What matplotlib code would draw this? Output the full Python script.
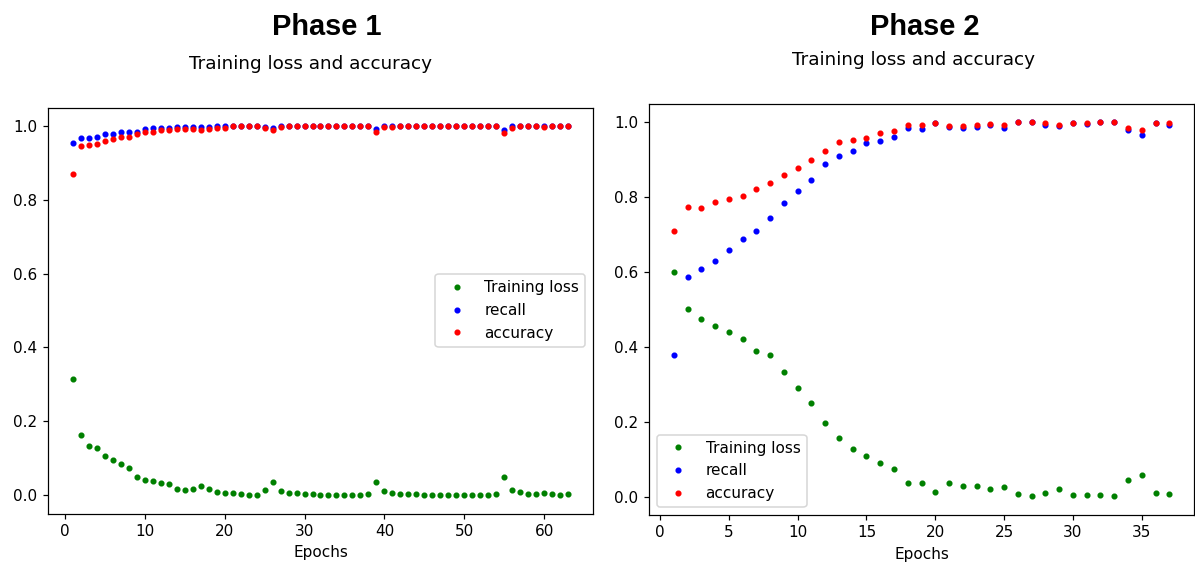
import matplotlib
matplotlib.use('Agg')
import matplotlib.pyplot as plt

# Phase 1 history (63 epochs)
p1_loss = [0.314, 0.164, 0.134, 0.128, 0.105, 0.095, 0.083, 0.074, 0.050, 0.041,
           0.038, 0.032, 0.029, 0.017, 0.014, 0.017, 0.024, 0.017, 0.008, 0.005,
           0.006, 0.002, 0.000, 0.000, 0.015, 0.036, 0.010, 0.006, 0.006, 0.003,
           0.003, 0.000, 0.000, 0.000, 0.000, 0.000, 0.000, 0.002, 0.036, 0.011,
           0.005, 0.002, 0.002, 0.002, 0.000, 0.000, 0.000, 0.000, 0.000, 0.000,
           0.000, 0.000, 0.000, 0.002, 0.050, 0.015, 0.008, 0.002, 0.002, 0.005,
           0.002, 0.000, 0.002]
p1_recall = [0.955, 0.967, 0.967, 0.970, 0.979, 0.979, 0.985, 0.985, 0.985, 0.992,
             0.994, 0.994, 0.995, 0.997, 0.998, 0.998, 0.996, 0.998, 1.000, 1.000,
             1.000, 1.000, 1.000, 1.000, 0.998, 0.994, 1.000, 1.000, 1.000, 1.000,
             1.000, 1.000, 1.000, 1.000, 1.000, 1.000, 1.000, 1.000, 0.993, 1.000,
             1.000, 1.000, 1.000, 1.000, 1.000, 1.000, 1.000, 1.000, 1.000, 1.000,
             1.000, 1.000, 1.000, 1.000, 0.990, 1.000, 1.000, 1.000, 1.000, 1.000,
             1.000, 1.000, 1.000]
p1_acc = [0.871, 0.945, 0.949, 0.952, 0.960, 0.964, 0.970, 0.970, 0.979, 0.985,
          0.985, 0.988, 0.990, 0.993, 0.993, 0.993, 0.990, 0.993, 0.995, 0.995,
          1.000, 1.000, 1.000, 1.000, 0.994, 0.988, 0.997, 1.000, 1.000, 1.000,
          1.000, 1.000, 1.000, 1.000, 1.000, 1.000, 1.000, 1.000, 0.985, 0.997,
          0.997, 1.000, 1.000, 1.000, 1.000, 1.000, 1.000, 1.000, 1.000, 1.000,
          1.000, 1.000, 1.000, 1.000, 0.981, 0.994, 1.000, 1.000, 1.000, 0.997,
          1.000, 1.000, 1.000]

# Phase 2 history (37 epochs)
p2_loss = [0.600, 0.502, 0.476, 0.457, 0.440, 0.421, 0.389, 0.378, 0.333, 0.292,
           0.250, 0.199, 0.158, 0.128, 0.110, 0.090, 0.074, 0.039, 0.039, 0.015,
           0.039, 0.029, 0.029, 0.021, 0.027, 0.009, 0.003, 0.012, 0.021, 0.006,
           0.006, 0.006, 0.003, 0.045, 0.060, 0.012, 0.009]
p2_recall = [0.380, 0.587, 0.608, 0.629, 0.659, 0.689, 0.709, 0.745, 0.784, 0.817,
             0.846, 0.888, 0.911, 0.924, 0.944, 0.950, 0.962, 0.986, 0.982, 0.998,
             0.987, 0.984, 0.988, 0.992, 0.984, 1.000, 1.000, 0.993, 0.990, 0.998,
             0.996, 1.000, 1.000, 0.979, 0.967, 0.998, 0.993]
p2_acc = [0.709, 0.775, 0.772, 0.787, 0.795, 0.804, 0.823, 0.837, 0.860, 0.879,
          0.900, 0.924, 0.947, 0.952, 0.958, 0.971, 0.977, 0.992, 0.992, 0.998,
          0.991, 0.991, 0.994, 0.996, 0.994, 1.000, 1.000, 0.997, 0.993, 0.999,
          0.999, 1.000, 1.000, 0.985, 0.980, 0.998, 0.998]

phases = [
    ('Phase 1', p1_loss, p1_recall, p1_acc, 'center right'),
    ('Phase 2', p2_loss, p2_recall, p2_acc, 'lower left'),
]

# the original was drawn a bit larger than 100 dpi, so render at 110 dpi
fig = plt.figure(figsize=(1195 / 110, 563 / 110), dpi=110)
ax1 = fig.add_axes([0.0402, 0.0879, 0.4560, 0.7211])
ax2 = fig.add_axes([0.5431, 0.0858, 0.4561, 0.7302])
title_x = [327 / 1195, 924.5 / 1195]
sub_x = [0.481, 0.486]

for ax, (name, loss, recall, acc, loc), tx, sx in zip([ax1, ax2], phases, title_x, sub_x):
    epochs = range(1, len(loss) + 1)
    ax.plot(epochs, loss, 'g.', label='Training loss')
    ax.plot(epochs, recall, 'b.', label='recall')
    ax.plot(epochs, acc, 'r.', label='accuracy')
    ax.set_title('Training loss and accuracy', pad=25.5, x=sx)
    ax.set_xlabel('Epochs')
    ax.legend(loc=loc)
    fig.text(tx, 1 - 35 / 563, name, ha='center', va='baseline',
             fontsize=19, fontweight='bold', family='Liberation Sans')

fig.savefig('out.png', dpi=110)
